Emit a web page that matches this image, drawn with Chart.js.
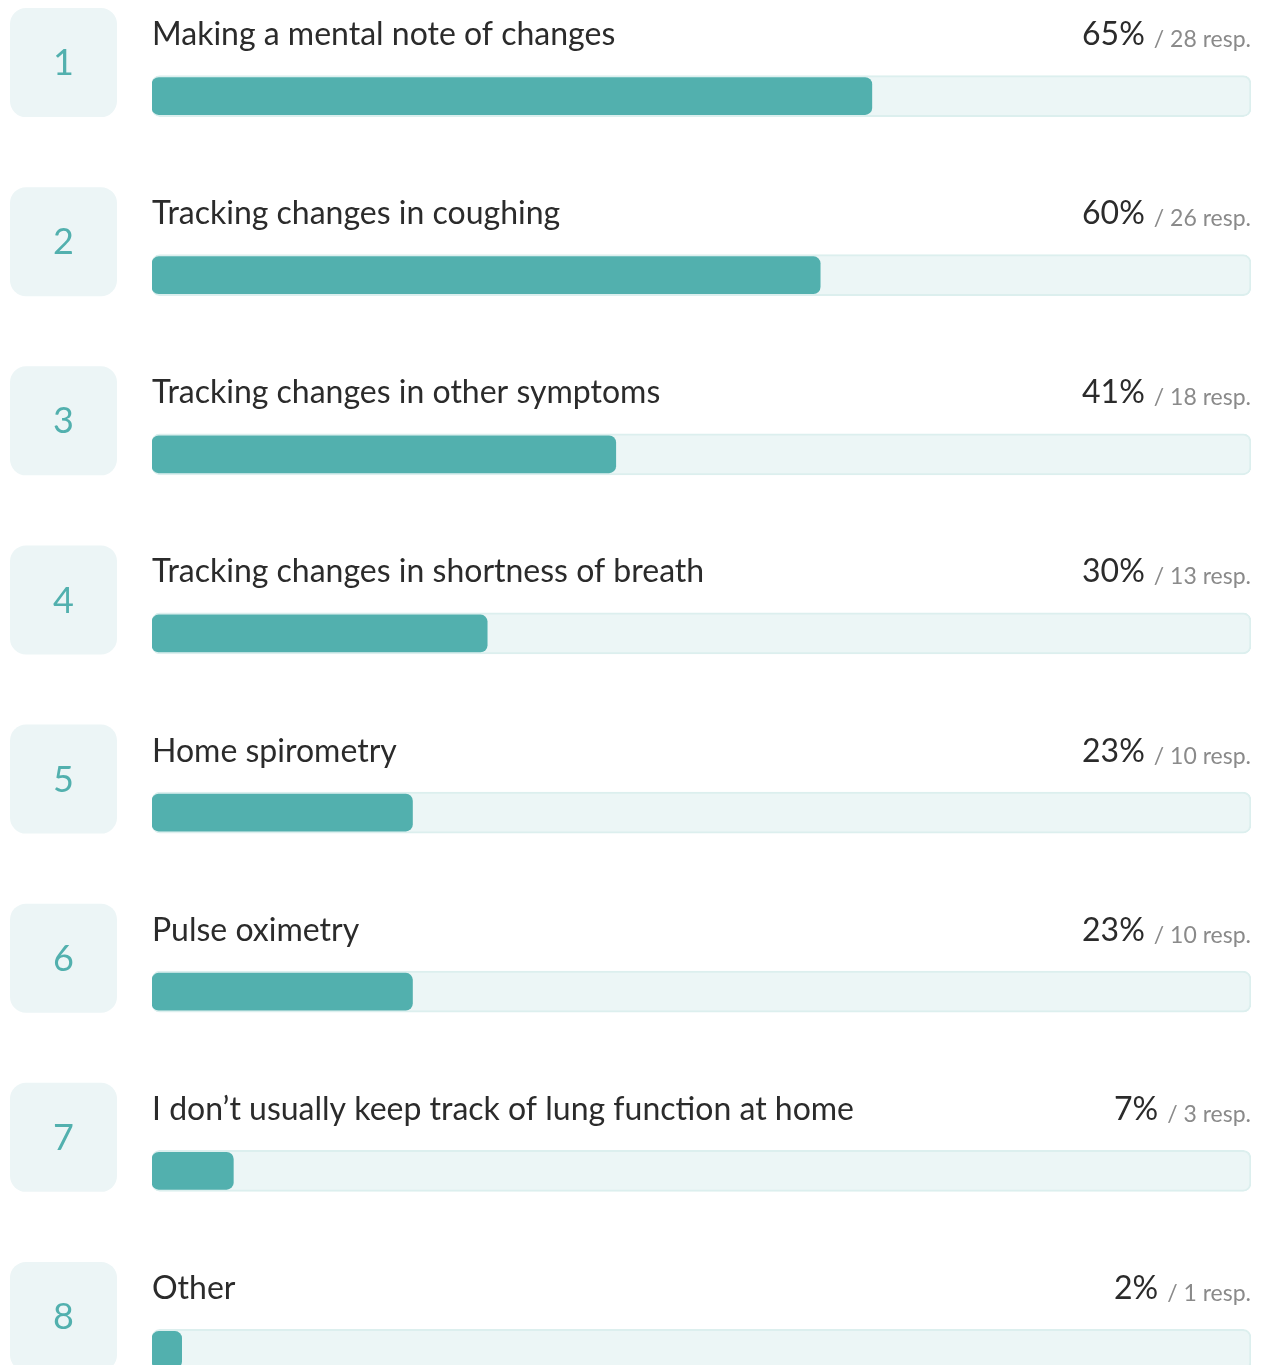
<!DOCTYPE html>
<html>
<head>
<meta charset="utf-8">
<script src="https://cdn.jsdelivr.net/npm/chart.js@4"></script>
<style>
  html, body { margin: 0; padding: 0; background: #ffffff; overflow: hidden; }
  #wrap { position: relative; width: 1261px; height: 1440px; }
</style>
</head>
<body>
<div id="wrap"><canvas id="c"></canvas></div>
<script>
// ---- data ----
const categories = [
  "Making a mental note of changes",
  "Tracking changes in coughing",
  "Tracking changes in other symptoms",
  "Tracking changes in shortness of breath",
  "Home spirometry",
  "Pulse oximetry",
  "I don\u2019t usually keep track of lung function at home",
  "Other"
];
const percentLabels = ["65%", "60%", "41%", "30%", "23%", "23%", "7%", "2%"];
const responses = [28, 26, 18, 13, 10, 10, 3, 1];
const barValues = [65.5, 60.8, 42.2, 30.5, 23.7, 23.7, 7.4, 2.7];
const trackValues = [100, 100, 100, 100, 100, 100, 100, 100];

const FONT = "Lato, 'Source Sans Pro', 'Noto Sans', sans-serif";

const overlay = {
  id: 'overlay',
  afterDatasetsDraw(chart) {
    const ctx = chart.ctx;
    const y = chart.scales.y;
    ctx.save();
    categories.forEach((label, i) => {
      const c = y.getPixelForValue(i);
      // number box
      const bx = 10, bw = 107, by = c - 88, bh = 109, r = 16;
      ctx.beginPath();
      ctx.roundRect(bx, by, bw, bh, r);
      ctx.fillStyle = '#ECF5F6';
      ctx.fill();
      ctx.fillStyle = '#52B0AE';
      ctx.font = "36px " + FONT;
      ctx.textAlign = 'center';
      ctx.textBaseline = 'middle';
      ctx.fillText(String(i + 1), bx + bw / 2, by + bh / 2 + 1);
      // label
      ctx.textBaseline = 'alphabetic';
      ctx.textAlign = 'left';
      ctx.fillStyle = '#2B2B2B';
      ctx.font = "32px " + FONT;
      ctx.fillText(label, 152, c - 51);
      // responses
      ctx.textAlign = 'right';
      ctx.fillStyle = '#8A8A8A';
      ctx.font = "23px " + FONT;
      const rtxt = "/ " + responses[i] + " resp.";
      ctx.fillText(rtxt, 1251, c - 49);
      const rw = ctx.measureText(rtxt).width;
      ctx.fillStyle = '#2B2B2B';
      ctx.font = "32px " + FONT;
      ctx.fillText(percentLabels[i], 1251 - rw - 9, c - 51);
    });
    ctx.restore();
  }
};

new Chart(document.getElementById('c'), {
  type: 'bar',
  data: {
    labels: categories,
    datasets: [
      {
        label: 'value',
        data: barValues,
        backgroundColor: '#52B0AE',
        borderWidth: 0,
        borderRadius: 7,
        borderSkipped: false,
        barThickness: 37,
        grouped: false,
        order: 1
      },
      {
        label: 'track',
        data: trackValues,
        backgroundColor: '#ECF6F6',
        borderColor: '#DCEFEE',
        borderWidth: 2,
        borderRadius: 8,
        borderSkipped: false,
        barThickness: 41,
        grouped: false,
        order: 2
      }
    ]
  },
  options: {
    indexAxis: 'y',
    responsive: true,
    maintainAspectRatio: false,
    animation: false,
    devicePixelRatio: 1,
    layout: { padding: { left: 152, right: 10, top: 6.5, bottom: 0.5 } },
    plugins: { legend: { display: false }, tooltip: { enabled: false } },
    scales: {
      x: { display: false, min: 0, max: 100 },
      y: { display: false, offset: true }
    }
  },
  plugins: [overlay]
});
</script>
</body>
</html>
